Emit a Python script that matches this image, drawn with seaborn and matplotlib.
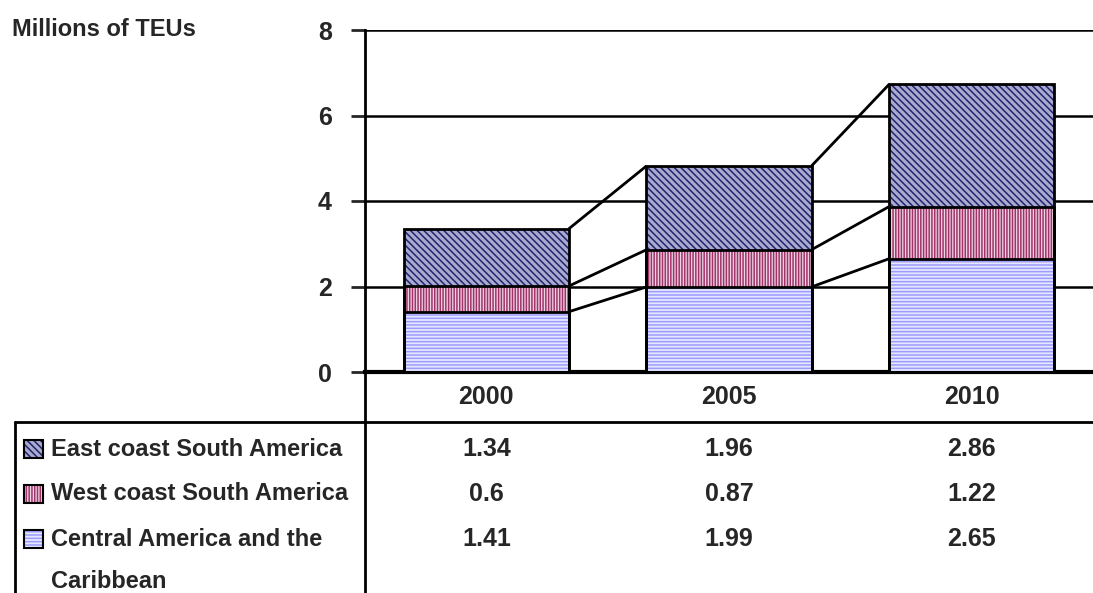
import numpy as np
import pandas as pd
import matplotlib
matplotlib.use('Agg')
import matplotlib.pyplot as plt
import seaborn as sns
from matplotlib.lines import Line2D
from matplotlib.patches import Rectangle
from matplotlib.transforms import blended_transform_factory

# data
years = ['2000', '2005', '2010']
series = ['East coast South America', 'West coast South America', 'Central America and the\nCaribbean']
central = [1.41, 1.99, 2.65]
west = [0.6, 0.87, 1.22]
east = [1.34, 1.96, 2.86]

sns.set_style('white')
plt.rcParams['font.family'] = ['Liberation Sans Narrow', 'Liberation Sans', 'DejaVu Sans']
plt.rcParams['font.weight'] = 'bold'
plt.rcParams['hatch.linewidth'] = 1.1

W, H = 1093, 593
fig = plt.figure(figsize=(W / 100, H / 100), dpi=100)

def fx(x):
    return x / W

def fy(y):
    return 1 - y / H

ax = fig.add_axes([fx(365), fy(372), fx(1093) - fx(365), fy(30) - fy(372)])

df = pd.DataFrame({'year': years, 'central': central, 'west': west, 'east': east})
df['c1'] = df['central']
df['c2'] = df['central'] + df['west']
df['c3'] = df['c2'] + df['east']

# fill style per layer: (cumulative column, face, hatch, hatch colour)
layers = [
    ('c3', '#a8aace', '\\' * 5, '#22226e'),
    ('c2', '#f0d6e4', '|' * 6, '#a0336a'),
    ('c1', '#e6e6ff', '-' * 5, '#9c9cff'),
]
bw = 0.68
for col, face, hatch, hc in layers:
    sns.barplot(data=df, x='year', y=col, color=face, hatch=hatch, edgecolor=hc,
                linewidth=0, width=bw, saturation=1, ax=ax, zorder=3)
for col, face, hatch, hc in layers:
    sns.barplot(data=df, x='year', y=col, fill=False, color='black',
                linewidth=2, width=bw, ax=ax, zorder=4)

# connector lines between stacks
for col in ['c1', 'c2', 'c3']:
    vals = df[col].values
    for i in range(len(vals) - 1):
        ax.plot([i + bw / 2, i + 1 - bw / 2], [vals[i], vals[i + 1]],
                color='black', lw=2, zorder=5, solid_capstyle='butt')

ax.set_ylim(0, 8)
ax.set_xlim(-0.5, 2.5)
ax.set_yticks([0, 2, 4, 6, 8])
ax.set_yticklabels(['0', '2', '4', '6', '8'], fontsize=18, fontweight='bold')
ax.set_xticks([])
ax.set_xlabel('')
ax.set_ylabel('')
ax.yaxis.grid(True, color='black', lw=1.8, zorder=1)
ax.set_axisbelow(True)
for s in ['top', 'right']:
    ax.spines[s].set_visible(False)
ax.spines['left'].set_linewidth(2)
ax.spines['left'].set_color('black')
ax.spines['bottom'].set_linewidth(3)
ax.spines['bottom'].set_color('black')
ax.tick_params(axis='y', direction='out', length=10, width=2, pad=14, left=True)

fig.text(fx(12), fy(29), 'Millions of TEUs', fontsize=17, fontweight='bold',
         ha='left', va='center')

# data table below the chart
fig.add_artist(Line2D([fx(15), fx(1093)], [fy(422), fy(422)], color='black', lw=2))
fig.add_artist(Line2D([fx(15), fx(15)], [fy(422), 0], color='black', lw=2))
fig.add_artist(Line2D([fx(365), fx(365)], [fy(372), 0], color='black', lw=2))

tr = blended_transform_factory(ax.transData, fig.transFigure)
for i, yr in enumerate(years):
    ax.text(i, fy(397), yr, transform=tr, ha='center', va='center',
            fontsize=18, fontweight='bold', clip_on=False)

row_y = [449, 494, 539]
row_vals = [east, west, central]
for r, (yy, vals, sty) in enumerate(zip(row_y, row_vals, layers)):
    for i, v in enumerate(vals):
        ax.text(i, fy(yy), f'{v:g}', transform=tr, ha='center', va='center',
                fontsize=18, fontweight='bold', clip_on=False)
    _, face, hatch, hc = sty
    key = Rectangle((fx(24), fy(yy + 9)), fx(19), fy(0) - fy(18),
                    transform=fig.transFigure, facecolor=face, hatch=hatch,
                    edgecolor=hc, linewidth=0)
    fig.add_artist(key)
    fig.add_artist(Rectangle((fx(24), fy(yy + 9)), fx(19), fy(0) - fy(18),
                             transform=fig.transFigure, fill=False,
                             edgecolor='black', linewidth=1.5))
    if '\n' in series[r]:
        fig.text(fx(51), fy(yy - 11), series[r], fontsize=17, fontweight='bold',
                 ha='left', va='top', linespacing=2.05)
    else:
        fig.text(fx(51), fy(yy), series[r], fontsize=17, fontweight='bold',
                 ha='left', va='center')

fig.savefig('out.png', dpi=100)
